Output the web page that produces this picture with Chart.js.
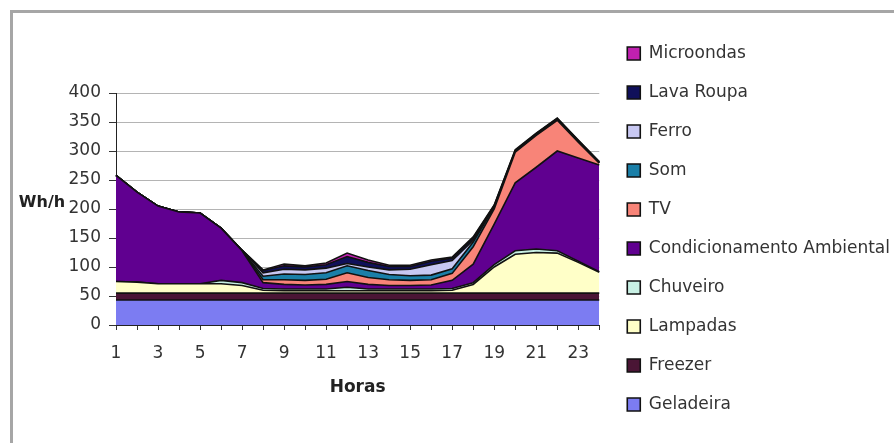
<!DOCTYPE html>
<html lang="pt">
<head>
<meta charset="utf-8">
<title>Consumo por hora</title>
<script src="https://cdn.jsdelivr.net/npm/chart.js@4.4.1/dist/chart.umd.min.js"></script>
<style>
  html, body { margin: 0; padding: 0; background: #fff; overflow: hidden; }
  #frame {
    position: absolute; left: 10px; top: 10px; width: 900px; height: 460px;
    border-left: 3px solid #a6a6a6; border-top: 3px solid #a6a6a6;
  }
  #chart { position: absolute; left: 0; top: 0; }
</style>
</head>
<body>
<div id="frame"></div>
<canvas id="chart" width="894" height="443"></canvas>
<script>
const hours = ["1","2","3","4","5","6","7","8","9","10","11","12","13","14","15","16","17","18","19","20","21","22","23","24"];

// Wh/h por equipamento, de baixo para cima na pilha
const geladeira   = [43,43,43,43,43,43,43,43,43,43,43,43,43,43,43,43,43,43,43,43,43,43,43,43];
const freezer     = [12,12,12,12,12,12,12,12,12,12,12,12,12,12,12,12,12,12,12,12,12,12,12,12];
const lampadas    = [20,19,16,16,16,16,13,5,4,4,4,4,4,4,4,4,5,15,45,67,70,69,53,36];
const chuveiro    = [0,0,0,0,0,6,5,3,3,3,3,6,3,3,3,3,3,3,4,6,6,4,2,1];
const condAmb     = [183,155,134,124,122,90,55,10,8,7,8,10,8,6,6,7,14,32,70,117,141,172,178,184];
const tv          = [0,0,0,0,0,0,0,5,8,8,9,15,12,10,9,9,12,30,26,53,55,53,27,3];
const som         = [0,0,0,0,0,0,0,6,10,10,11,12,12,9,8,8,8,8,3,1,1,1,1,1];
const ferro       = [0,0,0,0,0,0,1,6,8,8,8,4,6,8,11,18,14,3,1,0,0,0,0,0];
const lavaRoupa   = [0,0,0,0,0,0,0,4,6,5,6,12,8,6,5,6,4,4,2,2,2,2,2,1];
const microondas  = [0,0,0,0,0,0,0,1,3,2,3,6,4,2,2,2,2,2,1,1,1,1,1,1];

const seriesNames = ["Geladeira","Freezer","Lampadas","Chuveiro","Condicionamento Ambiental","TV","Som","Ferro","Lava Roupa","Microondas"];
const seriesData = [geladeira, freezer, lampadas, chuveiro, condAmb, tv, som, ferro, lavaRoupa, microondas];
const seriesColors = ["#7c7cf2","#4a1535","#ffffc8","#c8f0e4","#600090","#f88478","#1a7fa8","#c8c8f2","#10105a","#c020b0"];

const FONT = "'DejaVu Sans', sans-serif";

// o layout limita a legenda lateral a 1/4 da largura; aqui ela usa o que precisa
// e é desenhada um pouco mais à direita, como no original
const wideLegend = {
  id: "wideLegend",
  beforeLayout(chart) {
    const lg = chart.legend;
    if (!lg || lg._wide) return;
    const fit = lg.fit;
    lg.fit = function () {
      this.maxWidth = 320;
      fit.call(this);
    };
    const draw = lg.draw;
    lg.draw = function () {
      this.ctx.save();
      this.ctx.translate(6, 0);
      draw.call(this);
      this.ctx.restore();
    };
    lg._wide = true;
  },
};

const yTitle = {
  id: "yTitle",
  afterDraw(chart) {
    const { ctx, scales } = chart;
    ctx.save();
    ctx.font = "bold 16px " + FONT;
    ctx.fillStyle = "#222";
    ctx.textAlign = "center";
    ctx.textBaseline = "middle";
    ctx.fillText("Wh/h", 42, scales.y.getPixelForValue(200) - 6);
    ctx.restore();
  },
};

new Chart(document.getElementById("chart"), {
  type: "line",
  data: {
    labels: hours,
    datasets: seriesNames.map((name, i) => ({
      label: name,
      data: seriesData[i],
      backgroundColor: seriesColors[i],
      borderColor: "#111",
      borderWidth: 1.6,
      pointRadius: 0,
      tension: 0,
      fill: i === 0 ? "origin" : "-1",
    })),
  },
  options: {
    responsive: false,
    animation: false,
    events: [],
    layout: { padding: { top: 15, left: 0, right: 0, bottom: 0 } },
    plugins: {
      title: {
        display: true,
        text: " ",
        fullSize: false,
        font: { size: 10, lineHeight: 1 },
        padding: { top: 0, bottom: 68 },
      },
      legend: {
        position: "right",
        reverse: true,
        labels: {
          boxWidth: 13,
          boxHeight: 13,
          padding: 22,
          color: "#333",
          font: { family: FONT, size: 17 },
        },
      },
      tooltip: { enabled: false },
    },
    scales: {
      x: {
        offset: false,
        afterFit: (s) => { s.height = 118; },
        grid: { drawOnChartArea: false, drawTicks: true, tickLength: 5, tickColor: "#333" },
        border: { color: "#222", width: 1 },
        ticks: {
          autoSkip: false,
          maxRotation: 0,
          padding: 13,
          color: "#333",
          font: { family: FONT, size: 17 },
          callback: (v, i) => (i % 2 === 0 ? hours[i] : ""),
        },
        title: {
          display: true,
          text: "Horas",
          color: "#222",
          font: { family: FONT, size: 17, weight: "bold" },
          padding: { top: 0, bottom: 45 },
        },
      },
      y: {
        stacked: true,
        min: 0,
        max: 400,
        afterFit: (s) => { s.width = 116; },
        grid: {
          color: "#b4b4b4",
          borderDash: [8, 6],
          tickLength: 7,
          tickColor: "#333",
          tickBorderDash: [],
        },
        border: { color: "#222", width: 1, dash: [] },
        ticks: {
          stepSize: 50,
          padding: 8,
          color: "#333",
          font: { family: FONT, size: 17 },
        },
      },
    },
  },
  plugins: [wideLegend, yTitle],
});
</script>
</body>
</html>
